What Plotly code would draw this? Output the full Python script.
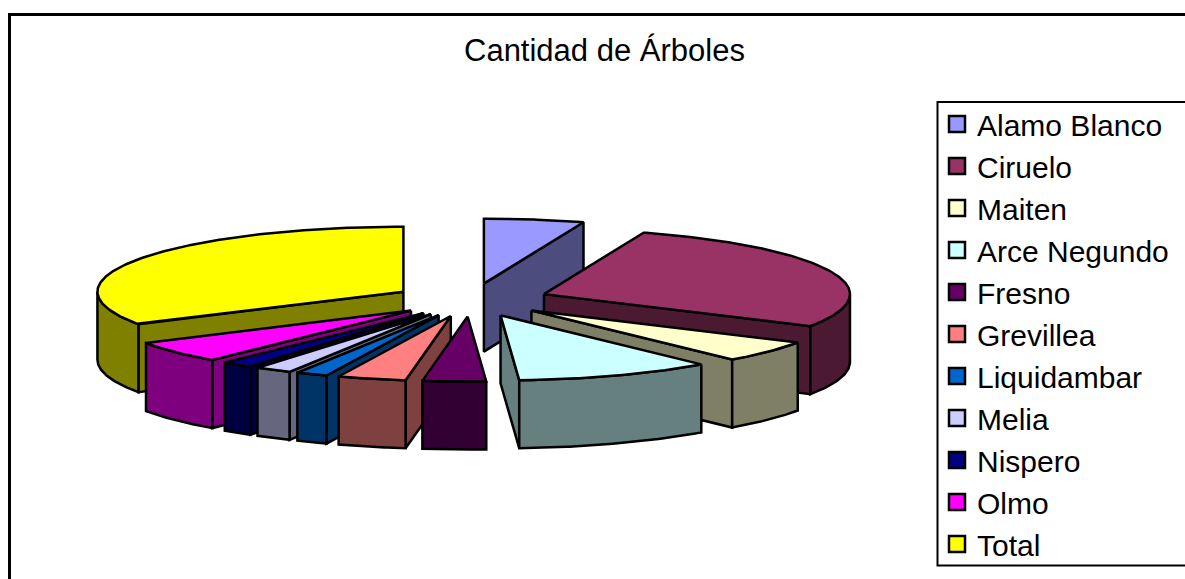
import numpy as np
import plotly.graph_objects as go

TITLE = "Cantidad de Árboles"
categories = ["Alamo Blanco", "Ciruelo", "Maiten", "Arce Negundo", "Fresno", "Grevillea",
              "Liquidambar", "Melia", "Nispero", "Olmo", "Total"]
values = [19, 100.5, 19.5, 37.5, 12, 13, 6, 7, 6, 19.5, 120]
colors = ["#9999FF", "#993366", "#FFFFCC", "#CCFFFF", "#660066", "#FF8080",
          "#0066CC", "#CCCCFF", "#000080", "#FF00FF", "#FFFF00"]

# projection of the tilted, exploded pie onto the pixel-sized axes
CX, CY, RX, RY, DEPTH, EXPLODE = 471, 300, 306, 65, 68, 0.255
LW = 2.5


def shade(hex_color):
    r, g, b = (int(hex_color[i:i + 2], 16) // 2 for i in (1, 3, 5))
    return f"rgb({r},{g},{b})"


def point(deg, radius=1.0, ox=0.0, oy=0.0):
    t = np.radians(deg)
    return ox + RX * radius * np.sin(t), oy - RY * radius * np.cos(t)


def arc(a, b, ox, oy):
    degs = np.linspace(a, b, max(2, int((b - a) * 2) + 1))
    xs, ys = point(degs, 1.0, ox, oy)
    return list(xs), list(ys)


fig = go.Figure()


def face(xs, ys, fill):
    fig.add_trace(go.Scatter(
        x=list(xs) + [xs[0]], y=list(ys) + [ys[0]], mode="lines", fill="toself",
        fillcolor=fill, line=dict(color="black", width=LW), showlegend=False,
        hoverinfo="skip"))


edges = np.concatenate([[0], np.cumsum(values)]) * 360.0 / sum(values)
slices = []
for i in range(len(values)):
    a, b = edges[i], edges[i + 1]
    slices.append((min((a + b) / 2, 360 - (a + b) / 2), i, a, b))

for _, i, a, b in sorted(slices):
    mid = (a + b) / 2
    ox, oy = point(mid, EXPLODE, CX, CY)
    side = shade(colors[i])
    # cut faces that look towards the viewer
    for ang, visible in ((a, a > 180), (b, b < 180)):
        if visible:
            rx, ry = point(ang, 1.0, ox, oy)
            face([ox, rx, rx, ox], [oy, ry, ry + DEPTH, oy + DEPTH], side)
    # outer rim, front half only
    lo, hi = max(a, 90), min(b, 270)
    if lo < hi:
        xs, ys = arc(lo, hi, ox, oy)
        face(xs + xs[::-1], ys + [y + DEPTH for y in ys[::-1]], side)
    # top face
    xs, ys = arc(a, b, ox, oy)
    face([ox] + xs, [oy] + ys, colors[i])

# legend entries
for i, name in enumerate(categories):
    fig.add_trace(go.Scatter(
        x=[None], y=[None], mode="markers", name=name, legendgroup=name,
        marker=dict(symbol="square", size=16, color=colors[i],
                    line=dict(color="black", width=2.5))))

fig.update_layout(
    width=1185, height=579, margin=dict(l=0, r=0, t=0, b=0),
    paper_bgcolor="white", plot_bgcolor="white", showlegend=True,
    font=dict(family="Liberation Sans, Arial, sans-serif", color="black"),
    xaxis=dict(range=[0, 1185], visible=False, fixedrange=True),
    yaxis=dict(range=[579, 0], visible=False, fixedrange=True),
    legend=dict(x=937 / 1185, y=1 - 98 / 579, xanchor="left", yanchor="top",
                bgcolor="rgba(0,0,0,0)", font=dict(size=30), tracegroupgap=0,
                maxheight=560, itemclick=False, itemdoubleclick=False),
    shapes=[
        dict(type="rect", xref="x", yref="y", x0=9.5, y0=14.5, x1=1200, y1=600,
             line=dict(color="black", width=3), layer="below"),
        dict(type="rect", xref="x", yref="y", x0=937.5, y0=102, x1=1200, y1=565.5,
             line=dict(color="black", width=2), layer="below"),
    ],
    annotations=[dict(text=TITLE, xref="x", yref="y", x=604, y=50, showarrow=False,
                      font=dict(size=31), xanchor="center", yanchor="middle")],
)
fig.write_html("out.html", config={"displayModeBar": False},
               post_script="document.body.style.margin='0';document.body.style.overflow='hidden';")
